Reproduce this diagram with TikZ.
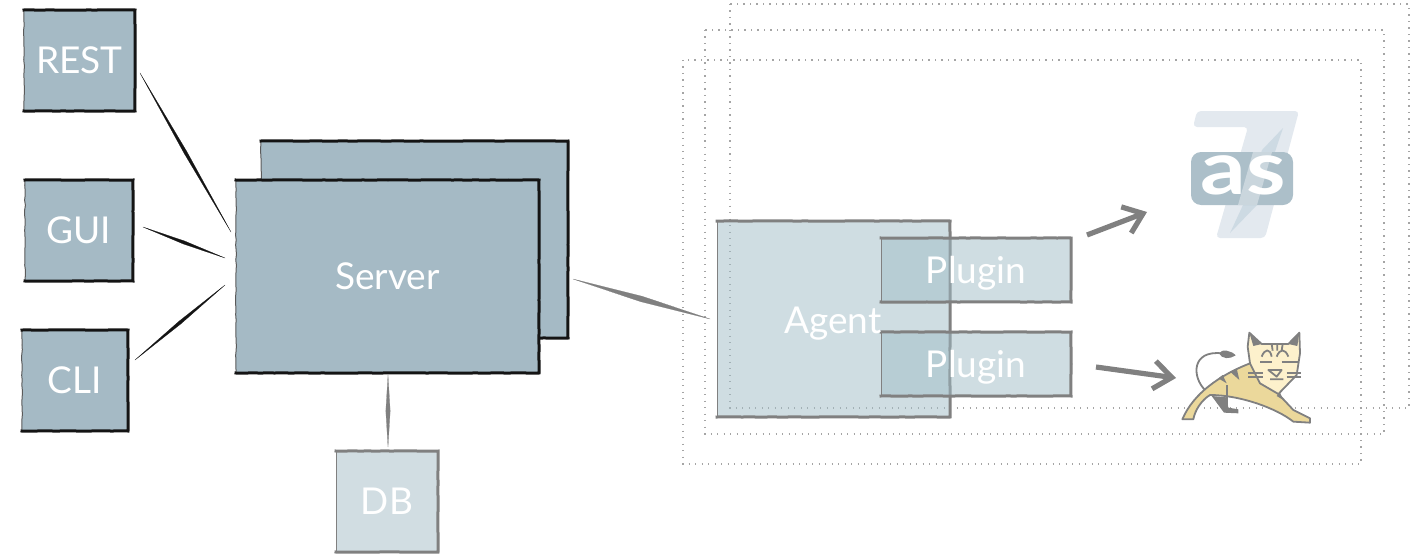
\documentclass[tikz,border=0pt]{standalone}
\usepackage{fontspec}
\setmainfont{Lato}
\usepackage{tikz}
\usetikzlibrary{calc,arrows.meta,decorations.pathmorphing}
\definecolor{BoxColor}{RGB}{165,186,197}
\definecolor{GlassColor}{RGB}{160,188,198}
\definecolor{PaleColor}{RGB}{209,221,226}
\definecolor{LineGrey}{RGB}{128,128,128}
\definecolor{DotGrey}{RGB}{165,165,165}
\definecolor{InkColor}{RGB}{20,20,20}
\definecolor{SevenColor}{RGB}{227,233,239}
\definecolor{SevenDark}{RGB}{205,218,227}
\definecolor{BadgeColor}{RGB}{172,191,201}
\definecolor{CatHead}{RGB}{253,241,204}
\definecolor{CatBody}{RGB}{235,216,155}
\def\pxunit{0.5pt}
% tapered pen stroke between two points
\newcommand{\penline}[4]{\draw[#1,fill=#1,line width=0.1pt] (#2) -- ($(#2)!.5!(#3)!#4!90:(#3)$) -- (#3) -- ($(#2)!.5!(#3)!#4!-90:(#3)$) -- cycle;}
% heavier pen on three sides of a box
\newcommand{\penedge}[2]{\draw[#2,line width=1.5pt,line cap=rect,decorate,decoration={random steps,segment length=4pt,amplitude=0.12pt}] (#1.north west) -- (#1.north east) -- (#1.south east) -- (#1.south west);}
\begin{document}
\begin{tikzpicture}[x=\pxunit,y=-\pxunit,
  box/.style n args={2}{minimum width=#1*\pxunit,minimum height=#2*\pxunit,inner sep=0pt,outer sep=0pt,rectangle,text=white,text height=13pt,text depth=0pt,font=\fontsize{18.5}{20}\selectfont},
  sketch/.style={fill=BoxColor,draw=InkColor!70,line width=0.5pt,decorate,decoration={random steps,segment length=2.5pt,amplitude=0.2pt}},
  pale/.style={fill=PaleColor,draw=LineGrey,line width=0.5pt},
  glass/.style={fill=GlassColor,fill opacity=0.5,text opacity=1,draw=LineGrey,draw opacity=1,line width=0.5pt},
  host/.style={draw=DotGrey,line width=0.55pt,dash pattern=on 0.55pt off 2.7pt},
  arrow/.style={draw=LineGrey,line width=2.6pt,-{Straight Barb[length=9pt,width=14pt,line width=2.6pt]}},
  cat/.style={draw=LineGrey,line width=0.9pt,line join=round}]
\useasboundingbox (0,0) rectangle (1411,556);
\pgfmathsetseed{7}
% hosts
\foreach \a/\b/\c/\d in {730/4/1409/408,705/30/1384/434,683/60/1361/464} {
   \draw[host] (\a,\b) rectangle (\c,\d);
}
% clients
\node[box={111}{101},sketch](rest) at(79.5,60.5) {REST};
\node[box={108}{101},sketch](gui) at(79,230.5) {GUI};
\node[box={106}{101},sketch](cli) at(75,380.5) {CLI};
\foreach \n in {rest,gui,cli} {
   \penedge{\n}{InkColor}
}
% server
\node[box={307}{197},sketch](server2) at(414.5,239.5) {};
\penedge{server2}{InkColor}
\node[box={303}{193},sketch](server) at(387.5,276.5) {Server};
\penedge{server}{InkColor}
\node[box={102}{101},pale](db) at(387,501.5) {DB};
\penedge{db}{LineGrey}
% agent
\node[box={233}{196},glass](agent) at(833.5,319) {};
\penedge{agent}{LineGrey}
\node[box={190}{64},glass](plugin1) at(976,270) {Plugin};
\node[box={190}{64},glass](plugin2) at(976,364) {Plugin};
\foreach \n in {plugin1,plugin2} {
   \penedge{\n}{LineGrey}
}
\node[box={95}{30}](agentlabel) at(833,320) {Agent};
% connectors
\coordinate (restout) at (140,73);
\coordinate (restin) at (231,232);
\coordinate (guiout) at (143,227);
\coordinate (guiin) at (225,258);
\coordinate (cliout) at (135,360);
\coordinate (cliin) at (225,285);
\coordinate (serverout) at (573,279);
\coordinate (agentin) at (710,319);
\coordinate (serverdown) at (388,375);
\coordinate (dbin) at (388,447);
\penline{InkColor}{restout}{restin}{0.8pt}
\penline{InkColor}{guiout}{guiin}{0.8pt}
\penline{InkColor}{cliout}{cliin}{0.8pt}
\penline{LineGrey}{serverout}{agentin}{1.4pt}
\penline{LineGrey}{serverdown}{dbin}{1.1pt}
\coordinate (as7) at (1147,212);
\coordinate (plugin1out) at (1087,235);
\coordinate (tomcat) at (1176,378);
\coordinate (plugin2out) at (1096,367);
\draw[arrow] (plugin1out) -- (as7);
\draw[arrow] (plugin2out) -- (tomcat);
% as7 logo
\fill[SevenColor,rounded corners=2pt] (1197,111) -- (1299,111) -- (1265,238) -- (1216,238) -- (1248,127) -- (1193,127) -- cycle;
\fill[SevenDark] (1283,128) -- (1257,205) -- (1230,233) -- (1243,205) -- (1262,150) -- cycle;
\fill[BadgeColor,rounded corners=5pt] (1191,152) rectangle (1293,205);
\fill[SevenColor,opacity=0.55] (1272,152) -- (1257,205) -- (1238,205) -- (1253,152) -- cycle;
\node[text=white,font=\bfseries\fontsize{31}{31}\selectfont,inner sep=0pt,xscale=1.45,yscale=1.2](aslabel) at(1243,175) {as};
% tomcat logo
\begin{scope}[shift={(1080,320)},x=\pxunit/3,y=-\pxunit/3]
   \draw[cat] (375,210) .. controls (335,170) and (335,90) .. (425,100);
   \fill[LineGrey] (417,100) .. controls (425,85) and (455,92) .. (467,106) .. controls (450,118) and (425,118) .. (417,100) -- cycle;
   \draw[cat,fill=CatBody] (307,298) .. controls (340,220) and (420,165) .. (510,130) -- (595,222) -- (640,270) -- (690,295) -- (690,308) -- (640,305) .. controls (590,265) and (480,225) .. (390,225) .. controls (365,240) and (345,270) .. (340,298) -- cycle;
   \fill[LineGrey] (395,228) -- (440,232) -- (445,263) -- (475,268) -- (475,280) -- (432,278) -- cycle;
   \draw[cat] (440,195) -- (440,255);
   \fill[LineGrey] (450,155) -- (478,180) -- (470,145) -- cycle (415,175) -- (440,190) -- (428,165) -- cycle (590,228) -- (610,240) -- (600,218) -- cycle;
   \draw[cat,fill=CatHead] (508,38) -- (545,72) -- (625,72) -- (658,38) -- (660,100) -- (650,165) -- (595,222) -- (540,190) -- (510,130) -- (503,80) -- cycle;
   \fill[LineGrey] (508,38) -- (545,72) -- (520,78) -- cycle (658,38) -- (625,72) -- (652,78) -- cycle;
   \draw[cat] (545,110) .. controls (555,85) and (570,85) .. (575,110) (590,110) .. controls (600,85) and (615,85) .. (625,110);
   \draw[cat] (540,125) -- (575,125) (605,125) -- (655,125);
   \draw[cat] (505,160) -- (550,160) (505,172) -- (550,172) (620,160) -- (662,160) (620,172) -- (662,172);
   \draw[cat] (565,150) -- (605,150) -- (590,170) -- cycle (570,178) -- (610,178);
   \draw[cat] (575,72) -- (578,92) (592,72) -- (592,92) (608,72) -- (605,92);
\end{scope}
\end{tikzpicture}
\end{document}
